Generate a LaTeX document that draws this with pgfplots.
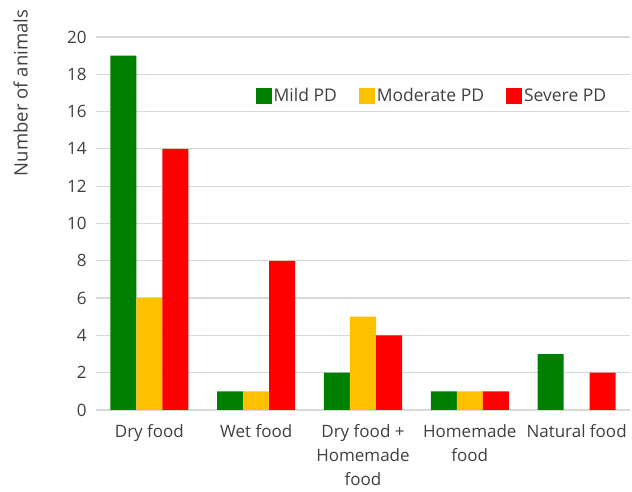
\documentclass[border=0pt]{standalone}
\usepackage{pgfplots}
\pgfplotsset{compat=1.18}
\usepackage{fontspec}
\setmainfont{Open Sans}
\definecolor{mild}{RGB}{0,128,0}
\definecolor{moder}{RGB}{255,192,0}
\definecolor{sev}{RGB}{255,0,0}
\definecolor{txt}{RGB}{64,64,64}
\definecolor{grd}{RGB}{217,217,217}
\begin{document}
\begin{tikzpicture}
\useasboundingbox (0,0) rectangle (632bp,492bp);
\begin{axis}[
  at={(96bp,82bp)}, anchor=south west,
  scale only axis, width=534bp, height=373bp,
  ybar=0pt, bar width=26bp,
  xmin=-0.5, xmax=4.5, ymin=0, ymax=20,
  ytick={0,2,...,20},
  xtick={0,1,2,3,4},
  xticklabels={Dry food, Wet food, {Dry food +\\Homemade\\food}, {Homemade\\food}, Natural food},
  xticklabel style={align=center, anchor=north, yshift=-11bp, font=\fontsize{17bp}{24bp}\selectfont, text=txt},
  yticklabel style={font=\fontsize{17bp}{20bp}\selectfont, text=txt, xshift=-6bp},
  /pgf/number format/assume math mode=true,
  axis line style={draw=none},
  major tick length=0pt,
  ymajorgrids, grid style={grd, line width=1.2bp},
  ylabel={Number of animals},
  ylabel style={at={(rel axis cs:-0.141,0.85)}, anchor=center, rotate=0, font=\fontsize{18.5bp}{20bp}\selectfont, text=txt},
  legend columns=3,
  legend style={draw=none, fill=none, at={(rel axis cs:0.629,0.843)}, anchor=center, font=\fontsize{17.5bp}{20bp}\selectfont, text=txt, /tikz/every even column/.append style={column sep=20bp}, /tikz/every odd column/.append style={inner xsep=3bp}},
  legend image code/.code={\fill[#1] (0bp,-8bp) rectangle (16bp,8bp);},
  every axis plot/.append style={draw=none},
]
\addplot[fill=mild] coordinates {(0,19) (1,1) (2,2) (3,1) (4,3)};
\addplot[fill=moder] coordinates {(0,6) (1,1) (2,5) (3,1) (4,0)};
\addplot[fill=sev] coordinates {(0,14) (1,8) (2,4) (3,1) (4,2)};
\legend{Mild PD, Moderate PD, Severe PD}
\end{axis}
\end{tikzpicture}
\end{document}
